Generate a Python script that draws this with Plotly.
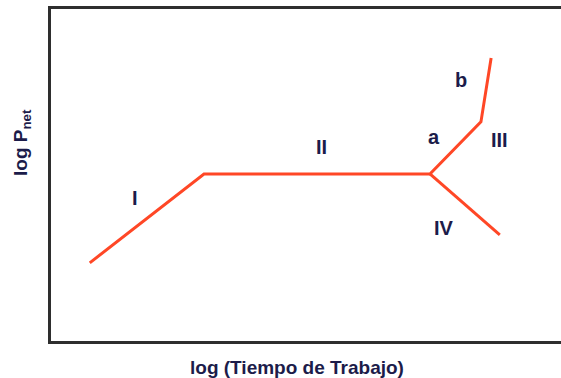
import plotly.graph_objects as go

# Conceptual log-log curve (arbitrary log units)
trunk_x = [0.76, 3.0, 7.43, 8.43, 8.63]
trunk_y = [1.53, 3.27, 3.27, 4.29, 5.54]
branch_x = [7.43, 8.8]
branch_y = [3.27, 2.08]

# Region labels and their positions
region_labels = ["I", "II", "a", "b", "III", "IV"]
label_x = [1.65, 5.3, 7.5, 8.04, 8.8, 7.7]
label_y = [2.8, 3.8, 3.99, 5.11, 3.93, 2.22]

line_color = "#ff4726"
text_color = "#1c1c4a"
font_family = "Liberation Sans, Arial, sans-serif"

fig = go.Figure()
fig.add_trace(go.Scatter(x=trunk_x, y=trunk_y, mode="lines",
                         line=dict(color=line_color, width=3), hoverinfo="skip"))
fig.add_trace(go.Scatter(x=branch_x, y=branch_y, mode="lines",
                         line=dict(color=line_color, width=3), hoverinfo="skip"))

for t, x, y in zip(region_labels, label_x, label_y):
    fig.add_annotation(x=x, y=y, text=f"<b>{t}</b>", showarrow=False,
                       font=dict(family=font_family, size=20, color=text_color))

fig.add_annotation(xref="paper", yref="paper", x=(297 - 51) / 510, y=-26 / 332,
                   yanchor="middle",
                   text="<b>log (Tiempo de Trabajo)</b>", showarrow=False,
                   font=dict(family=font_family, size=19, color=text_color))
fig.add_annotation(xref="paper", yref="paper", x=-29 / 510, y=(341 - 143) / 332,
                   xanchor="center", yanchor="middle",
                   text="<b>log P<sub>net</sub></b>", showarrow=False, textangle=-90,
                   font=dict(family=font_family, size=19, color=text_color))

fig.update_layout(
    width=561, height=378,
    margin=dict(l=51, r=0, t=9, b=37),
    paper_bgcolor="white", plot_bgcolor="white",
    showlegend=False,
    xaxis=dict(range=[0, 10], showgrid=False, zeroline=False, showticklabels=False,
               ticks="", showline=True, linecolor="#2e2e2e", linewidth=3, mirror=True),
    yaxis=dict(range=[0, 6.5], showgrid=False, zeroline=False, showticklabels=False,
               ticks="", showline=True, linecolor="#2e2e2e", linewidth=3, mirror=False),
)

fig.write_html("out.html")
